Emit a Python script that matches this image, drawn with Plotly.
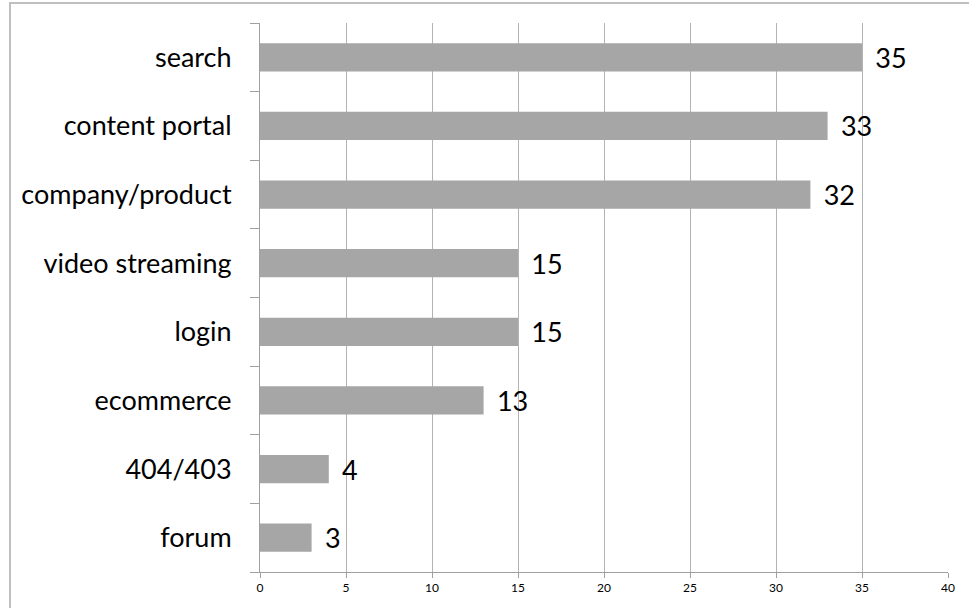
import plotly.graph_objects as go

categories = ["search", "content portal", "company/product", "video streaming",
              "login", "ecommerce", "404/403", "forum"]
values = [35, 33, 32, 15, 15, 13, 4, 3]
x_ticks = [0, 5, 10, 15, 20, 25, 30, 35, 40]

W, H = 969, 608
L, R, T, B = 260, 948, 23, 572

fig = go.Figure()
fig.add_trace(go.Bar(
    y=categories, x=values, orientation="h",
    marker=dict(color="#a6a6a6", line=dict(width=0)),
    text=values, texttemplate="\u00a0\u2009%{x}", textposition="outside",
    constraintext="none",
    textfont=dict(size=27, color="#000000", family="Lato"),
    cliponaxis=False,
))

def px_x(p):
    return (p - L) / (R - L)

def px_y(p):
    return (B - p) / (B - T)

fig.add_shape(type="rect", xref="paper", yref="paper",
              x0=px_x(10), x1=px_x(980), y0=px_y(620), y1=px_y(3),
              line=dict(color="#bfbfbf", width=2), fillcolor="rgba(0,0,0,0)", layer="below")

fig.update_layout(
    width=W, height=H,
    margin=dict(l=L, r=W - R, t=T, b=H - B, pad=0),
    paper_bgcolor="white", plot_bgcolor="white",
    showlegend=False,
    bargap=0.59,
    font=dict(family="Lato", color="#000000"),
)
fig.update_xaxes(
    range=[0, 40], tickvals=x_ticks, ticktext=[str(v) for v in x_ticks],
    showgrid=True, gridcolor="#b3b3b3", gridwidth=1,
    showline=True, linecolor="#a0a0a0", linewidth=1,
    ticks="outside", ticklen=5, tickcolor="#a0a0a0",
    tickfont=dict(size=12, family="Lato", color="#000000"),
    zeroline=False, fixedrange=True,
)
fig.update_yaxes(
    categoryorder="array", categoryarray=categories[::-1],
    showline=True, linecolor="#a0a0a0", linewidth=1,
    ticks="outside", ticklen=9, tickcolor="#a0a0a0", tickson="boundaries",
    tickfont=dict(size=27, family="Lato", color="#000000"),
    ticklabelstandoff=22,
    showgrid=False, fixedrange=True,
)

fig.write_html("out.html")
